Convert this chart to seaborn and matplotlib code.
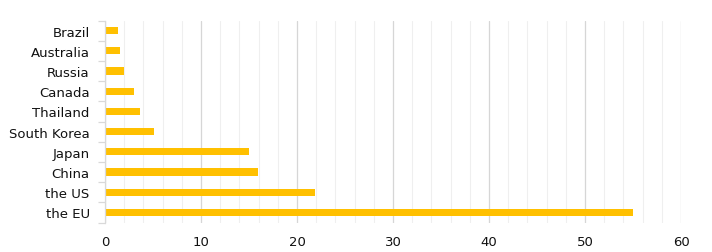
import matplotlib
matplotlib.use("Agg")
import matplotlib.pyplot as plt
import seaborn as sns
import pandas as pd
import numpy as np
from matplotlib.ticker import MultipleLocator, FixedLocator

countries = ["Brazil", "Australia", "Russia", "Canada", "Thailand",
             "South Korea", "Japan", "China", "the US", "the EU"]
values = [1.35, 1.55, 2.0, 3.0, 3.65, 5.1, 15.0, 15.9, 21.9, 55.0]

df = pd.DataFrame({"country": countries, "value": values})

sns.set_style("white")
plt.rcParams['font.family'] = ['DejaVu Sans']

fig = plt.figure(figsize=(7.12, 2.53), dpi=100)
ax = fig.add_axes([105/712, 1-223.5/253, (681-105)/712, (223.5-21.5)/253])

sns.barplot(data=df, x="value", y="country", orient="h", color="#FFC000",
            saturation=1, width=0.35, linewidth=0, edgecolor="none", ax=ax)

ax.set_xlim(0, 60)
ax.set_ylim(9.5, -0.5)
ax.xaxis.set_major_locator(MultipleLocator(10))
ax.xaxis.set_minor_locator(MultipleLocator(2))
ax.grid(which="major", axis="x", color="#d6d6d6", linewidth=0.9)
ax.grid(which="minor", axis="x", color="#efefef", linewidth=0.8)
ax.set_axisbelow(True)

for s in ["top", "right", "bottom"]:
    ax.spines[s].set_visible(False)
ax.spines["left"].set_color("#d9d9d9")
ax.spines["left"].set_linewidth(0.9)

ax.yaxis.set_minor_locator(FixedLocator(np.arange(-0.5, 10, 1)))
ax.tick_params(axis="y", which="major", length=0, pad=11, labelsize=9.5, labelcolor="#111111")
ax.tick_params(axis="y", which="minor", length=5, color="#d9d9d9", width=0.9, left=True)
ax.tick_params(axis="x", which="both", length=0, pad=9, labelsize=9.5, labelcolor="#111111")
ax.set_xlabel("")
ax.set_ylabel("")

fig.savefig("out.png", dpi=100)
